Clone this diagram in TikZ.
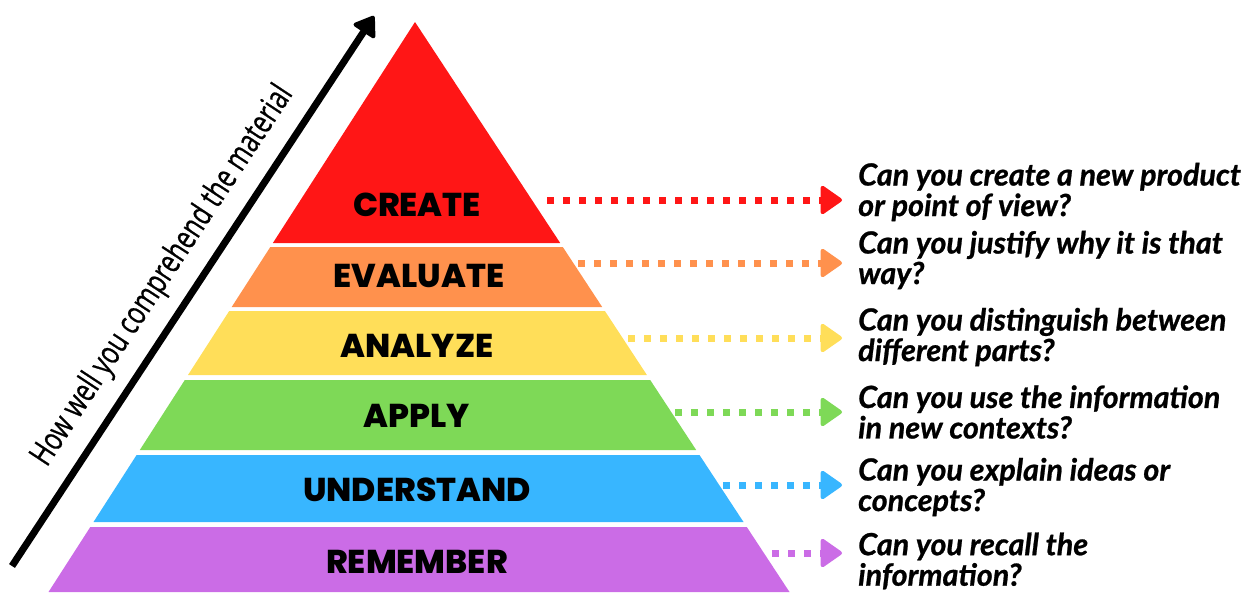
\documentclass[tikz,border=0pt]{standalone}
\usepackage{fontspec}
\usetikzlibrary{arrows.meta}

\newfontfamily\bandfont{Poppins}[BoldFont={Poppins ExtraBold}]
\newfontfamily\askfont{Lato}[BoldItalicFeatures={FakeBold=0.8}]
\newfontfamily\axisfont{Open Sans}[FakeStretch=0.74, FakeBold=0.6]

\definecolor{createred}{HTML}{FF1616}
\definecolor{evalorange}{HTML}{FF914D}
\definecolor{analyzeyellow}{HTML}{FFDE59}
\definecolor{applygreen}{HTML}{7ED957}
\definecolor{underblue}{HTML}{38B6FF}
\definecolor{rememberpurple}{HTML}{CB6CE6}

\begin{document}
\begin{tikzpicture}[x=1pt,y=-1pt]
\useasboundingbox (0,0) rectangle (1258,592);

\coordinate (T) at (415,22);
\coordinate (D1_L) at (272.9,243);
\coordinate (D1_R) at (560.2,243);
\coordinate (U2_L) at (270.3,247);
\coordinate (U2_R) at (562.8,247);
\coordinate (D2_L) at (231.7,307);
\coordinate (D2_R) at (602.2,307);
\coordinate (U3_L) at (229.2,311);
\coordinate (U3_R) at (604.9,311);
\coordinate (D3_L) at (188.0,375);
\coordinate (D3_R) at (646.9,375);
\coordinate (U4_L) at (184.8,380);
\coordinate (U4_R) at (650.2,380);
\coordinate (D4_L) at (139.8,450);
\coordinate (D4_R) at (696.2,450);
\coordinate (U5_L) at (136.6,455);
\coordinate (U5_R) at (699.5,455);
\coordinate (D5_L) at (93.5,522);
\coordinate (D5_R) at (743.5,522);
\coordinate (U6_L) at (90.3,527);
\coordinate (U6_R) at (746.8,527);
\coordinate (D6_L) at (48.5,592);
\coordinate (D6_R) at (789.5,592);

\fill[createred] (T) -- (D1_R) -- (D1_L) -- cycle;
\fill[evalorange] (U2_L) -- (U2_R) -- (D2_R) -- (D2_L) -- cycle;
\fill[analyzeyellow] (U3_L) -- (U3_R) -- (D3_R) -- (D3_L) -- cycle;
\fill[applygreen] (U4_L) -- (U4_R) -- (D4_R) -- (D4_L) -- cycle;
\fill[underblue] (U5_L) -- (U5_R) -- (D5_R) -- (D5_L) -- cycle;
\fill[rememberpurple] (U6_L) -- (U6_R) -- (D6_R) -- (D6_L) -- cycle;

\tikzset{LevelStyle/.style = {
 font = \bandfont\bfseries\fontsize{33}{33}\selectfont,
 text = black,
 inner sep = 0pt} }

\node[LevelStyle] (N1) at (417,205) {CREATE};
\node[LevelStyle] (N2) at (419,276) {EVALUATE};
\node[LevelStyle] (N3) at (417,346) {ANALYZE};
\node[LevelStyle] (N4) at (417,416) {APPLY};
\node[LevelStyle] (N5) at (417,490) {UNDERSTAND};
\node[LevelStyle] (N6) at (417,562) {REMEMBER};

\tikzset{AskStyle/.style = {
 anchor = west,
 align = left,
 font = \askfont\bfseries\itshape\fontsize{30.5}{30.5}\selectfont,
 inner sep = 0pt} }

\node[AskStyle] (Q1) at (858,192) {Can you create a new product\\or point of view?};
\node[AskStyle] (Q2) at (858,260) {Can you justify why it is that\\way?};
\node[AskStyle] (Q3) at (858,337) {Can you distinguish between\\different parts?};
\node[AskStyle] (Q4) at (858,412) {Can you use the information\\in new contexts?};
\node[AskStyle] (Q5) at (858,487) {Can you explain ideas or\\concepts?};
\node[AskStyle] (Q6) at (858,561) {Can you recall the\\information?};

\tikzset{DotArrow/.style = {
 line width = 7pt,
 dash pattern = on 7pt off 9pt,
 -{Triangle[length=23pt, width=31pt, line width=4pt, round]}} }

\coordinate (S1) at (547,200);
\coordinate (E1) at (842,200);
\coordinate (S2) at (578,263);
\coordinate (E2) at (842,263);
\coordinate (S3) at (628,338);
\coordinate (E3) at (842,338);
\coordinate (S4) at (675,412);
\coordinate (E4) at (842,412);
\coordinate (S5) at (723,485);
\coordinate (E5) at (842,485);
\coordinate (S6) at (772,553);
\coordinate (E6) at (842,553);

\draw[DotArrow, createred] (S1) -- (E1);
\draw[DotArrow, evalorange] (S2) -- (E2);
\draw[DotArrow, analyzeyellow] (S3) -- (E3);
\draw[DotArrow, applygreen] (S4) -- (E4);
\draw[DotArrow, underblue] (S5) -- (E5);
\draw[DotArrow, rememberpurple] (S6) -- (E6);

% comprehension axis
\coordinate (A0) at (12,566);
\coordinate (A1) at (374,16);
\draw[line width=7pt, -{Triangle[length=21pt, width=28pt, line width=4pt, round]}] (A0) -- (A1);
\node[font=\axisfont\fontsize{33}{33}\selectfont, rotate=56.6, inner sep=0pt] (Lbl) at (163,276) {How well you comprehend the material};

\end{tikzpicture}
\end{document}
